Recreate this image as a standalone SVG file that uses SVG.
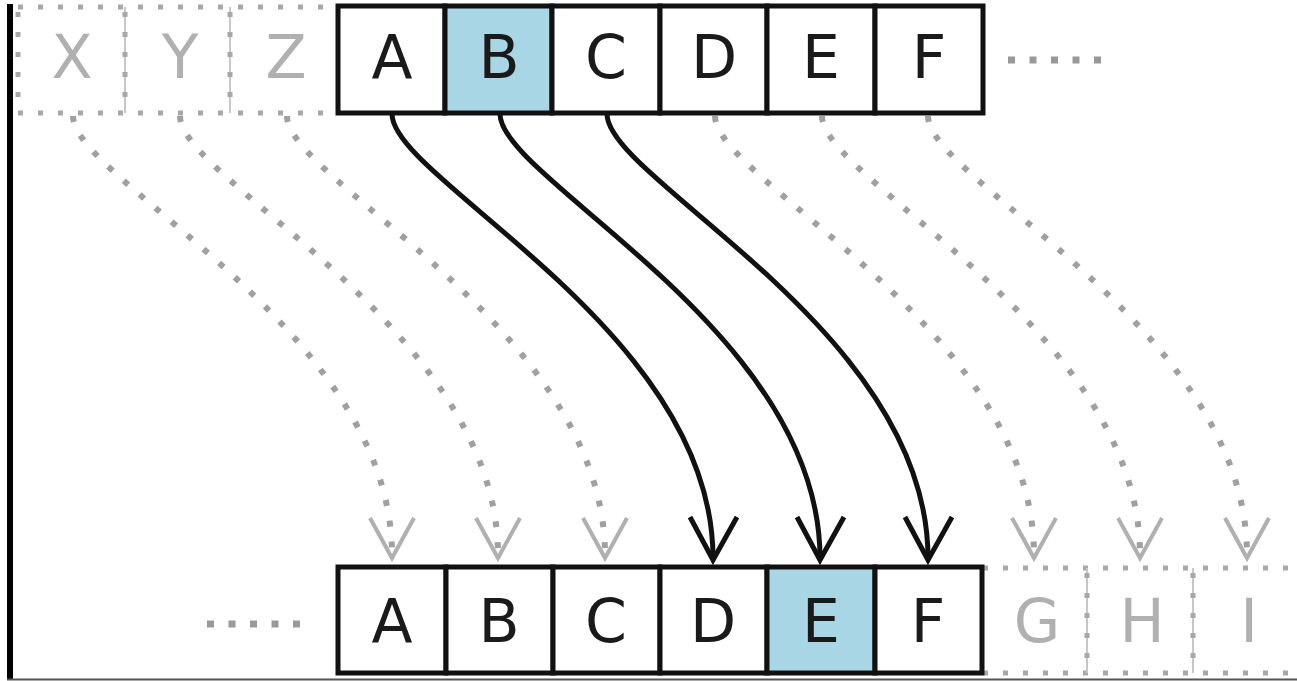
<svg xmlns="http://www.w3.org/2000/svg" width="1297" height="681" viewBox="0 0 1297 681">
<defs>
<style>
.cell{fill:#ffffff;stroke:#111;stroke-width:5}
.hl{fill:#a8d6e4}
.lbl{font-family:"DejaVu Sans","Liberation Sans",sans-serif;font-size:60px;text-anchor:middle;fill:#1a1a1a}
.glbl{font-family:"DejaVu Sans","Liberation Sans",sans-serif;font-size:60px;text-anchor:middle;fill:#b0b0b0}
.dot{fill:none;stroke:#a0a0a0;stroke-width:6;stroke-dasharray:6 15}
.dotl{fill:none;stroke:#a8a8a8;stroke-width:5;stroke-dasharray:5 15}
.sep{fill:none;stroke:#c8c8c8;stroke-width:2}
.arr{fill:none;stroke:#111;stroke-width:5}
.garr{fill:none;stroke:#b0b0b0;stroke-width:4}
</style>
</defs>
<rect x="0" y="0" width="1297" height="681" fill="#ffffff"/>
<rect x="7" y="4" width="6" height="676" fill="#000"/>
<line x1="7" y1="679.5" x2="1297" y2="679.5" stroke="#555" stroke-width="2"/>

<g id="ghost-top">
<line class="dotl" x1="18" y1="7" x2="338" y2="7"/>
<line class="dotl" x1="18" y1="113" x2="338" y2="113"/>
<line class="dotl" x1="18" y1="12" x2="18" y2="108"/>
<line class="sep" x1="125" y1="7" x2="125" y2="113"/>
<line class="dotl" x1="125" y1="12" x2="125" y2="108"/>
<line class="sep" x1="230" y1="7" x2="230" y2="113"/>
<line class="dotl" x1="230" y1="12" x2="230" y2="108"/>
<text class="glbl" x="72" y="78">X</text>
<text class="glbl" x="180" y="78">Y</text>
<text class="glbl" x="286" y="78">Z</text>
</g>

<g id="top-row">
<rect class="cell" x="338" y="6" width="107" height="107"/>
<rect class="cell hl" x="445" y="6" width="107" height="107"/>
<rect class="cell" x="552" y="6" width="108" height="107"/>
<rect class="cell" x="660" y="6" width="107" height="107"/>
<rect class="cell" x="767" y="6" width="108" height="107"/>
<rect class="cell" x="875" y="6" width="108" height="107"/>
<text class="lbl" x="392" y="78">A</text>
<text class="lbl" x="499" y="78">B</text>
<text class="lbl" x="606" y="78">C</text>
<text class="lbl" x="714" y="78">D</text>
<text class="lbl" x="821" y="78">E</text>
<text class="lbl" x="929" y="78">F</text>
<line x1="1008" y1="60" x2="1105" y2="60" stroke="#999" stroke-width="7" stroke-dasharray="7 14.5"/>
</g>

<g id="ghost-bottom">
<line class="dotl" x1="983" y1="568" x2="1297" y2="568"/>
<line class="dotl" x1="983" y1="673" x2="1297" y2="673"/>
<line class="sep" x1="1087" y1="568" x2="1087" y2="673"/>
<line class="dotl" x1="1087" y1="573" x2="1087" y2="668"/>
<line class="sep" x1="1193" y1="568" x2="1193" y2="673"/>
<line class="dotl" x1="1193" y1="573" x2="1193" y2="668"/>
<text class="glbl" x="1037" y="642">G</text>
<text class="glbl" x="1142" y="642">H</text>
<text class="glbl" x="1249" y="642">I</text>
</g>

<g id="bottom-row">
<rect class="cell" x="338" y="567" width="108" height="106"/>
<rect class="cell" x="446" y="567" width="107" height="106"/>
<rect class="cell" x="553" y="567" width="107" height="106"/>
<rect class="cell" x="660" y="567" width="107" height="106"/>
<rect class="cell hl" x="767" y="567" width="108" height="106"/>
<rect class="cell" x="875" y="567" width="107" height="106"/>
<text class="lbl" x="392" y="642">A</text>
<text class="lbl" x="499" y="642">B</text>
<text class="lbl" x="606" y="642">C</text>
<text class="lbl" x="713" y="642">D</text>
<text class="lbl" x="821" y="642">E</text>
<text class="lbl" x="928" y="642">F</text>
<line x1="207" y1="624" x2="304" y2="624" stroke="#999" stroke-width="7" stroke-dasharray="7 14.5"/>
</g>

<g id="connectors">
<path class="dot" d="M73,116 C73,180 392,330 392,555"/>
<path class="dot" d="M180,116 C180,180 498,330 498,555"/>
<path class="dot" d="M287,116 C287,180 605,330 605,555"/>
<path class="dot" d="M715,116 C715,180 1034,330 1034,555"/>
<path class="dot" d="M822,116 C822,180 1140,330 1140,555"/>
<path class="dot" d="M928,116 C928,180 1247,330 1247,555"/>
<polyline class="garr" points="370,518 392,558 414,518"/>
<polyline class="garr" points="476,518 498,558 520,518"/>
<polyline class="garr" points="583,518 605,558 627,518"/>
<polyline class="garr" points="1012,518 1034,558 1056,518"/>
<polyline class="garr" points="1118,518 1140,558 1162,518"/>
<polyline class="garr" points="1225,518 1247,558 1269,518"/>

<path class="arr" d="M392,114 C392,180 713,330 713,558"/>
<path class="arr" d="M500,114 C500,180 820,330 820,558"/>
<path class="arr" d="M607,114 C607,180 928,330 928,558"/>
<polyline class="arr" points="690,517 713,560 737,517"/>
<polyline class="arr" points="797,517 820,560 844,517"/>
<polyline class="arr" points="905,517 928,560 952,517"/>
</g>
</svg>
